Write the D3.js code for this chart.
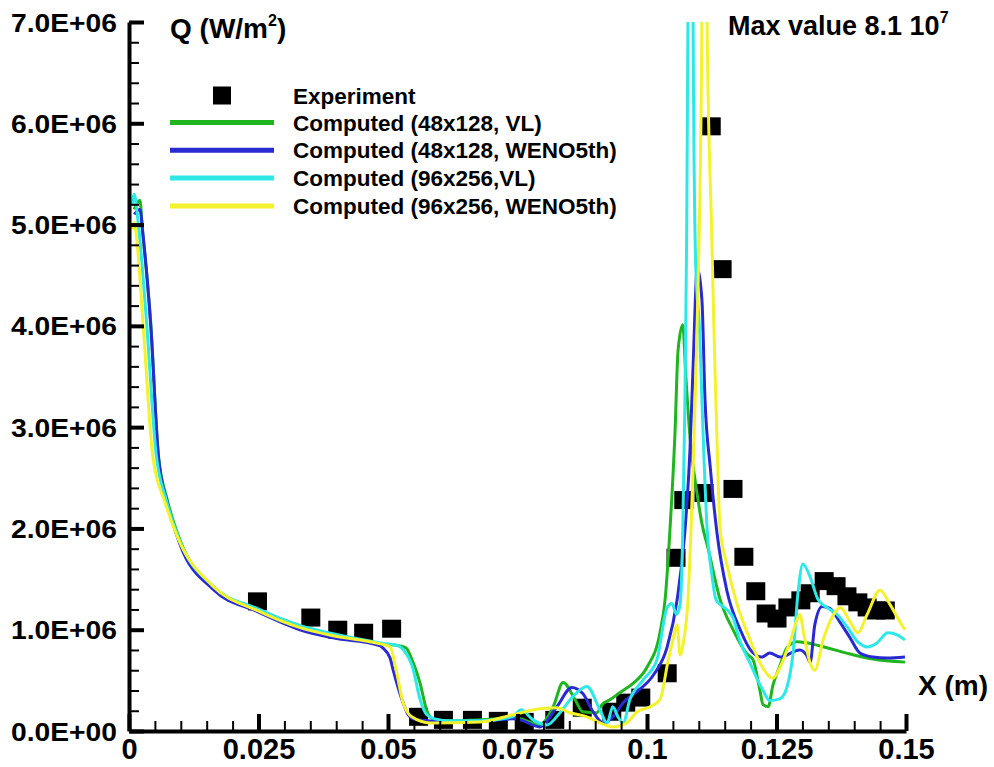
<!DOCTYPE html>
<html>
<head>
<meta charset="utf-8">
<script src="https://cdn.jsdelivr.net/npm/d3@7"></script>
<style>
  body { margin: 0; background: #fff; }
  text { font-family: "Liberation Sans", Arial, sans-serif; font-weight: bold; fill: #000; }
</style>
</head>
<body>
<div id="chart"></div>
<script>
// axis ticks
var xTicks = [0, 0.025, 0.05, 0.075, 0.1, 0.125, 0.15];
var xTickLabels = ["0", "0.025", "0.05", "0.075", "0.1", "0.125", "0.15"];
var yTicks = [0, 1e6, 2e6, 3e6, 4e6, 5e6, 6e6, 7e6];
var yTickLabels = ["0.0E+00", "1.0E+06", "2.0E+06", "3.0E+06", "4.0E+06", "5.0E+06", "6.0E+06", "7.0E+06"];

// experiment points
var expX = [0.0248, 0.0351, 0.0403, 0.0453, 0.0507, 0.0559, 0.0607, 0.0663, 0.0713, 0.0763,
            0.0822, 0.0875, 0.0932, 0.0959, 0.0988, 0.1039, 0.1056, 0.1071, 0.1110, 0.1124,
            0.1145, 0.1166, 0.1187, 0.1210, 0.1230, 0.1251, 0.1272, 0.1297, 0.1315, 0.1342,
            0.1365, 0.1386, 0.1407, 0.1425, 0.1442, 0.1460];
var expQ = [1.28e6, 1.12e6, 1.00e6, 0.97e6, 1.01e6, 0.14e6, 0.11e6, 0.11e6, 0.10e6, 0.09e6,
            0.11e6, 0.23e6, 0.19e6, 0.28e6, 0.33e6, 0.57e6, 1.71e6, 2.28e6, 2.35e6, 5.97e6,
            4.56e6, 2.39e6, 1.72e6, 1.38e6, 1.16e6, 1.11e6, 1.22e6, 1.29e6, 1.36e6, 1.48e6,
            1.43e6, 1.33e6, 1.27e6, 1.22e6, 1.19e6, 1.19e6];

// computed curves [x (m), Q (W/m2)]
var vl48 = [[0.0010,5.15e6],[0.0021,5.24e6],[0.0026,4.95e6],[0.0042,4.03e6],[0.0057,2.71e6],[0.0074,2.28e6],
  [0.0098,1.89e6],[0.0162,1.42e6],[0.0247,1.2e6],[0.033,1.04e6],[0.0394,0.95e6],[0.0485,0.86e6],[0.0523,0.84e6],
  [0.0535,0.82e6],[0.0545,0.72e6],[0.0562,0.47e6],[0.0575,0.2e6],[0.0587,0.12e6],[0.062,0.1e6],[0.0678,0.11e6],
  [0.0741,0.13e6],[0.0755,0.12e6],[0.0793,0.06e6],[0.0819,0.24e6],[0.0838,0.48e6],[0.0861,0.31e6],[0.0876,0.19e6],
  [0.0903,0.18e6],[0.0913,0.26e6],[0.0929,0.31e6],[0.0948,0.38e6],[0.0973,0.47e6],[0.1,0.63e6],[0.1025,0.97e6],
  [0.1035,1.3e6],[0.1044,1.96e6],[0.1054,2.94e6],[0.106,3.76e6],[0.1069,4.01e6],[0.1075,3.5e6],[0.1083,2.9e6],
  [0.1098,2.3e6],[0.1106,2.05e6],[0.1118,1.8e6],[0.1141,1.3e6],[0.1166,1.0e6],[0.1193,0.76e6],[0.1205,0.7e6],
  [0.1218,0.4e6],[0.1224,0.26e6],[0.1234,0.24e6],[0.1243,0.45e6],[0.1257,0.65e6],[0.127,0.82e6],[0.129,0.88e6],
  [0.1334,0.84e6],[0.1392,0.76e6],[0.1436,0.71e6],[0.1498,0.68e6]];

var weno48 = [[0.0010,5.1e6],[0.0021,5.15e6],[0.0027,4.9e6],[0.0042,4.0e6],[0.0057,2.7e6],[0.0074,2.25e6],
  [0.0098,1.85e6],[0.0162,1.4e6],[0.0247,1.18e6],[0.033,1.0e6],[0.0394,0.92e6],[0.0485,0.84e6],[0.049,0.82e6],
  [0.0504,0.72e6],[0.051,0.6e6],[0.0529,0.28e6],[0.0539,0.16e6],[0.0548,0.12e6],[0.058,0.1e6],[0.062,0.09e6],
  [0.0678,0.1e6],[0.0741,0.12e6],[0.0755,0.11e6],[0.0793,0.04e6],[0.0826,0.24e6],[0.0855,0.43e6],[0.0876,0.37e6],
  [0.0896,0.19e6],[0.0915,0.08e6],[0.0934,0.14e6],[0.0954,0.28e6],[0.0981,0.39e6],[0.1012,0.55e6],[0.1039,0.83e6],
  [0.1058,1.29e6],[0.1073,1.96e6],[0.1083,2.78e6],[0.1089,3.6e6],[0.1097,4.56e6],[0.1106,4.26e6],[0.1112,3.27e6],
  [0.1122,2.61e6],[0.1135,1.96e6],[0.1154,1.39e6],[0.118,1.0e6],[0.1203,0.78e6],[0.1222,0.73e6],[0.1237,0.77e6],
  [0.1257,0.73e6],[0.1295,0.8e6],[0.1309,0.74e6],[0.1315,0.68e6],[0.1324,1.05e6],[0.1338,1.23e6],[0.1353,1.21e6],
  [0.1373,1.07e6],[0.1392,0.92e6],[0.1411,0.77e6],[0.1436,0.73e6],[0.1463,0.72e6],[0.1498,0.73e6]];

var vl96 = [[0.0006,5.2e6],[0.001,5.3e6],[0.0016,5.1e6],[0.0033,4.1e6],[0.0052,2.75e6],[0.0072,2.28e6],
  [0.0096,1.9e6],[0.0162,1.43e6],[0.0247,1.21e6],[0.033,1.04e6],[0.0394,0.96e6],[0.0485,0.87e6],[0.052,0.84e6],
  [0.053,0.8e6],[0.0548,0.62e6],[0.0562,0.31e6],[0.0575,0.16e6],[0.059,0.12e6],[0.062,0.1e6],[0.0678,0.1e6],
  [0.074,0.14e6],[0.0757,0.21e6],[0.078,0.11e6],[0.0807,0.06e6],[0.0832,0.18e6],[0.0857,0.34e6],[0.0884,0.44e6],
  [0.0909,0.21e6],[0.0923,0.08e6],[0.0934,0.24e6],[0.0944,0.14e6],[0.0954,0.08e6],[0.0967,0.31e6],[0.0992,0.5e6],
  [0.1019,0.7e6],[0.1039,1.22e6],[0.1048,1.26e6],[0.1057,1.15e6],[0.1064,1.25e6],[0.1069,1.96e6],[0.1073,3.2e6],
  [0.1076,4.6e6],[0.1079,7.0e6],[0.1084,8.1e7],[0.1089,7.0e6],[0.1094,4.6e6],[0.1102,3.9e6],[0.1106,3.27e6],
  [0.1116,2.0e6],[0.1125,1.55e6],[0.1133,1.3e6],[0.1141,1.25e6],[0.1154,1.2e6],[0.1166,1.12e6],[0.118,0.88e6],
  [0.1199,0.67e6],[0.1212,0.52e6],[0.1224,0.4e6],[0.1237,0.3e6],[0.1257,0.32e6],[0.127,0.43e6],[0.1282,0.77e6],
  [0.1292,1.39e6],[0.1301,1.65e6],[0.1315,1.52e6],[0.133,1.3e6],[0.1347,1.22e6],[0.1367,1.15e6],[0.1386,1.03e6],
  [0.1407,0.88e6],[0.1425,0.83e6],[0.1444,0.87e6],[0.1465,0.97e6],[0.1483,0.95e6],[0.1498,0.9e6]];

var weno96 = [[0.0006,4.95e6],[0.0010,5.02e6],[0.0014,4.9e6],[0.0027,4.03e6],[0.0046,2.71e6],[0.007,2.25e6],
  [0.0095,1.9e6],[0.0162,1.43e6],[0.0247,1.19e6],[0.033,1.02e6],[0.0394,0.94e6],[0.0485,0.86e6],[0.0504,0.83e6],
  [0.0517,0.57e6],[0.0529,0.28e6],[0.0546,0.14e6],[0.0581,0.08e6],[0.0678,0.09e6],[0.0741,0.16e6],[0.0793,0.22e6],
  [0.0826,0.23e6],[0.0851,0.18e6],[0.0884,0.14e6],[0.0909,0.08e6],[0.0934,0.04e6],[0.0961,0.08e6],[0.0981,0.19e6],
  [0.1006,0.24e6],[0.1025,0.31e6],[0.1041,0.7e6],[0.105,0.9e6],[0.1058,1.05e6],[0.1064,0.75e6],[0.1071,0.9e6],
  [0.1079,1.29e6],[0.1085,2.0e6],[0.1089,2.6e6],[0.1093,3.27e6],[0.1098,4.26e6],[0.1106,7.0e6],[0.1111,3.5e7],
  [0.1116,7.0e6],[0.1125,4.9e6],[0.1131,3.6e6],[0.1135,2.9e6],[0.1141,2.0e6],[0.1154,1.65e6],[0.1174,1.25e6],
  [0.1199,0.9e6],[0.1224,0.62e6],[0.1243,0.52e6],[0.1257,0.63e6],[0.1276,0.88e6],[0.129,1.1e6],[0.1295,1.15e6],
  [0.1303,0.95e6],[0.1315,0.67e6],[0.1324,0.6e6],[0.134,0.9e6],[0.1359,1.14e6],[0.1373,1.22e6],[0.1392,1.08e6],
  [0.1407,0.97e6],[0.1425,1.15e6],[0.145,1.39e6],[0.1469,1.25e6],[0.1488,1.08e6],[0.1498,1.0e6]];

var seriesNames = ["Computed (48x128, VL)", "Computed (48x128, WENO5th)", "Computed (96x256,VL)", "Computed (96x256, WENO5th)"];
var seriesColors = ["#1fb51f", "#2a2ad2", "#2ee8e8", "#f4f22c"];
var seriesData = [vl48, weno48, vl96, weno96];

var svgWidth = 994, svgHeight = 767;

var svg = d3.select("#chart").append("svg")
    .attr("width", svgWidth)
    .attr("height", svgHeight);

var x = d3.scaleLinear().domain([0, 0.15]).range([129, 906]);
var y = d3.scaleLinear().domain([0, 7e6]).range([731, 22]);

svg.append("clipPath").attr("id", "plotclip")
    .append("rect")
    .attr("x", x(0) - 2).attr("y", y(7e6))
    .attr("width", x(0.15) - x(0) + 4).attr("height", y(0) - y(7e6));

// experiment squares
svg.append("g").selectAll("rect")
    .data(expX.map(function(d, i) { return [d, expQ[i]]; }))
    .enter().append("rect")
    .attr("x", function(d) { return x(d[0]) - 9.5; })
    .attr("y", function(d) { return y(d[1]) - 9; })
    .attr("width", 19)
    .attr("height", 18)
    .attr("fill", "#000");

// computed lines
var line = d3.line()
    .x(function(d) { return x(d[0]); })
    .y(function(d) { return y(d[1]); })
    .curve(d3.curveMonotoneX);

svg.append("g").attr("clip-path", "url(#plotclip)")
    .selectAll("path")
    .data(seriesData)
    .enter().append("path")
    .attr("d", line)
    .attr("fill", "none")
    .attr("stroke", function(d, i) { return seriesColors[i]; })
    .attr("stroke-width", 3)
    .attr("stroke-linejoin", "round");

// minor ticks
var xMinor = d3.range(0, 0.1501, 0.005).filter(function(v) { return Math.abs(v / 0.025 - Math.round(v / 0.025)) > 1e-6; });
var yMinor = d3.range(0, 7.01e6, 2e5).filter(function(v) { return v % 1e6 !== 0; });

var xMinorAxis = svg.append("g").attr("transform", "translate(0," + y(0) + ")")
    .call(d3.axisBottom(x).tickValues(xMinor).tickSize(-10).tickSizeOuter(0).tickFormat(""));
var yMinorAxis = svg.append("g").attr("transform", "translate(" + x(0) + ",0)")
    .call(d3.axisLeft(y).tickValues(yMinor).tickSize(-10).tickSizeOuter(0).tickFormat(""));
[xMinorAxis, yMinorAxis].forEach(function(g) {
    g.select(".domain").remove();
    g.selectAll(".tick line").attr("stroke", "#000").attr("stroke-width", 2);
});

// major axes
var xAxis = svg.append("g").attr("transform", "translate(0," + y(0) + ")")
    .call(d3.axisBottom(x).tickValues(xTicks).tickSize(-17).tickSizeOuter(0).tickPadding(7)
        .tickFormat(function(d, i) { return xTickLabels[i]; }));
var yAxis = svg.append("g").attr("transform", "translate(" + x(0) + ",0)")
    .call(d3.axisLeft(y).tickValues(yTicks).tickSize(-15).tickSizeOuter(0).tickPadding(12)
        .tickFormat(function(d, i) { return yTickLabels[i]; }));

[xAxis, yAxis].forEach(function(g) {
    g.select(".domain").attr("stroke", "#000").attr("stroke-width", 4);
    g.selectAll(".tick line").attr("stroke", "#000").attr("stroke-width", 4);
    g.selectAll(".tick text").attr("font-family", null).attr("fill", "#000");
});
xAxis.selectAll(".tick text").attr("font-size", "29px");
yAxis.selectAll(".tick text")
    .attr("font-size", "25px")
    .attr("dy", "0.36em")
    .attr("textLength", 106)
    .attr("lengthAdjust", "spacingAndGlyphs");

// titles
var qLabel = svg.append("text").attr("x", 170).attr("y", 38).attr("font-size", "28px");
qLabel.append("tspan").text("Q (W/m");
qLabel.append("tspan").attr("font-size", "16px").attr("dy", -12).text("2");
qLabel.append("tspan").attr("dy", 12).text(")");

var maxLabel = svg.append("text").attr("x", 728).attr("y", 35).attr("font-size", "27px");
maxLabel.append("tspan").text("Max value 8.1 10");
maxLabel.append("tspan").attr("font-size", "16px").attr("dy", -12).text("7");

svg.append("text").attr("x", 918).attr("y", 695).attr("font-size", "28px").text("X (m)");

// legend
var legend = svg.append("g");
legend.append("rect").attr("x", 213).attr("y", 86.5).attr("width", 18).attr("height", 18).attr("fill", "#000");
legend.append("text").attr("x", 293).attr("y", 103.5).attr("font-size", "22.5px").text("Experiment");
seriesNames.forEach(function(name, i) {
    var ly = 122.5 + i * 27.8;
    legend.append("line")
        .attr("x1", 170).attr("x2", 274).attr("y1", ly).attr("y2", ly)
        .attr("stroke", seriesColors[i]).attr("stroke-width", 5);
    legend.append("text").attr("x", 293).attr("y", ly + 8).attr("font-size", "22.5px").text(name);
});
</script>
</body>
</html>
